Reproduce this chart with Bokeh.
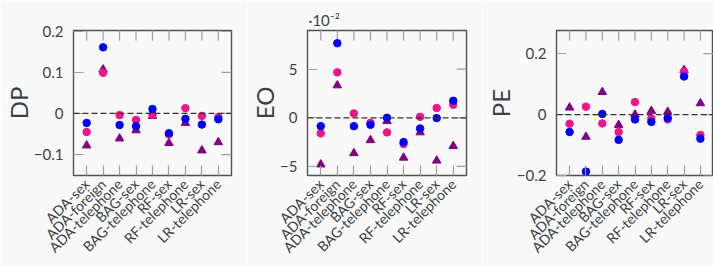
import math
from bokeh.plotting import figure
from bokeh.models import Range1d, FixedTicker, Span
from bokeh.layouts import row
from bokeh.embed import file_html
from bokeh.resources import INLINE

categories = ["ADA-sex", "ADA-foreign", "ADA-telephone", "BAG-sex", "BAG-telephone",
              "RF-sex", "RF-telephone", "LR-sex", "LR-telephone"]

# Demographic parity
dp_blue = [-0.023, 0.161, -0.028, -0.031, 0.011, -0.048, -0.013, -0.027, -0.014]
dp_pink = [-0.045, 0.099, -0.004, -0.016, -0.003, -0.051, 0.013, -0.006, -0.009]
dp_tri = [-0.078, 0.107, -0.061, -0.041, -0.006, -0.072, -0.023, -0.090, -0.070]

# Equal opportunity (in units of 10^-2)
eo_blue = [-0.86, 7.66, -0.86, -0.72, 0.0, -2.5, -1.1, -0.03, 1.75]
eo_pink = [-1.6, 4.67, 0.45, -0.52, -1.5, -2.7, 0.1, 1.0, 1.34]
eo_tri = [-4.8, 3.33, -3.64, -2.3, -0.34, -4.1, -1.5, -4.4, -2.9]

# Predictive equality
pe_blue = [-0.057, -0.187, 0.002, -0.083, -0.016, -0.024, -0.011, 0.125, -0.079]
pe_pink = [-0.030, 0.026, -0.029, -0.057, 0.041, -0.013, -0.016, 0.141, -0.067]
pe_tri = [0.023, -0.073, 0.074, -0.034, 0.0, 0.012, 0.009, 0.146, 0.037]

dp_ticks = [-0.1, 0.0, 0.1, 0.2]
dp_tick_labels = ["\u22120.1", "0", "0.1", "0.2"]
eo_ticks = [-5.0, 0.0, 5.0]
eo_tick_labels = ["\u22125", "0", "5"]
pe_ticks = [-0.2, 0.0, 0.2]
pe_tick_labels = ["\u22120.2", "0", "0.2"]
eo_scale_text = "\u00b710\u207b\u00b2"

BG = "#f9f9f9"
FRAME = "#4a5356"
TICK = "#a0a0a0"
TEXT = "#3a4245"
BLUE = "#0000ff"
PINK = "#ee1589"
PURPLE = "#800080"
FONT = "Lato"


def panel(name, blue, pink, tri, ticks, tick_labels, yr, width, left, right, name_off):
    xs = list(range(len(categories)))
    x0, x1 = -0.8, 8.8
    p = figure(width=width, height=266, x_range=Range1d(x0, x1), y_range=Range1d(*yr),
               output_backend="svg", toolbar_location=None,
               min_border_left=left, min_border_right=right,
               min_border_top=30, min_border_bottom=91,
               background_fill_color=BG, border_fill_color=BG,
               outline_line_color=FRAME, outline_line_width=1.4)
    p.grid.visible = False

    # mirrored tick marks on the top and right frame edges (half clipped by the frame)
    p.scatter(xs, [yr[1]] * len(xs), marker="dash", angle=math.pi / 2, size=20,
              line_color=TICK, line_width=1.2)
    p.scatter([x1] * len(ticks), ticks, marker="dash", size=20,
              line_color=TICK, line_width=1.2)

    p.add_layout(Span(location=0, dimension="width", line_color="#333333",
                      line_dash="6 3", line_width=1.3))
    p.scatter(xs, tri, marker="triangle", size=8.5, color=PURPLE)
    p.scatter(xs, pink, size=7.5, color=PINK)
    p.scatter(xs, blue, size=7.5, color=BLUE)

    xa = p.xaxis[0]
    xa.ticker = FixedTicker(ticks=xs)
    xa.major_label_overrides = {i: c for i, c in enumerate(categories)}
    xa.major_label_orientation = math.pi / 4
    xa.major_label_standoff = 6
    xa.major_label_text_font = FONT
    xa.major_label_text_font_size = "14px"
    xa.major_label_text_color = TEXT

    ya = p.yaxis[0]
    ya.ticker = FixedTicker(ticks=ticks)
    ya.major_label_overrides = {t: l for t, l in zip(ticks, tick_labels)}
    ya.major_label_standoff = 10
    ya.major_label_text_font = FONT
    ya.major_label_text_font_size = "15px"
    ya.major_label_text_color = TEXT
    ya.axis_label = name
    ya.axis_label_text_font = FONT
    ya.axis_label_text_font_size = "24px"
    ya.axis_label_text_font_style = "normal"
    ya.axis_label_text_color = TEXT
    ya.axis_label_standoff = name_off

    for ax in (xa, ya):
        ax.axis_line_color = None
        ax.major_tick_in = 10
        ax.major_tick_out = 0
        ax.minor_tick_in = 0
        ax.minor_tick_out = 0
        ax.major_tick_line_color = TICK
        ax.major_tick_line_width = 1.2
    return p


p1 = panel("DP", dp_blue, dp_pink, dp_tri, dp_ticks, dp_tick_labels, (-0.151, 0.202),
           247, 67, 16, -2)
p2 = panel("EO", eo_blue, eo_pink, eo_tri, eo_ticks, eo_tick_labels, (-5.93, 8.97),
           235, 55, 16, -2)
p3 = panel("PE", pe_blue, pe_pink, pe_tri, pe_ticks, pe_tick_labels, (-0.2, 0.276),
           231, 68, 0, -1)

p2.title.text = eo_scale_text
p2.title.align = "left"
p2.title.offset = 1
p2.title.standoff = 3
p2.title.text_font = FONT
p2.title.text_font_size = "15px"
p2.title.text_font_style = "normal"
p2.title.text_color = TEXT

layout = row(p1, p2, p3)
open("out.html", "w").write(file_html(layout, INLINE))
